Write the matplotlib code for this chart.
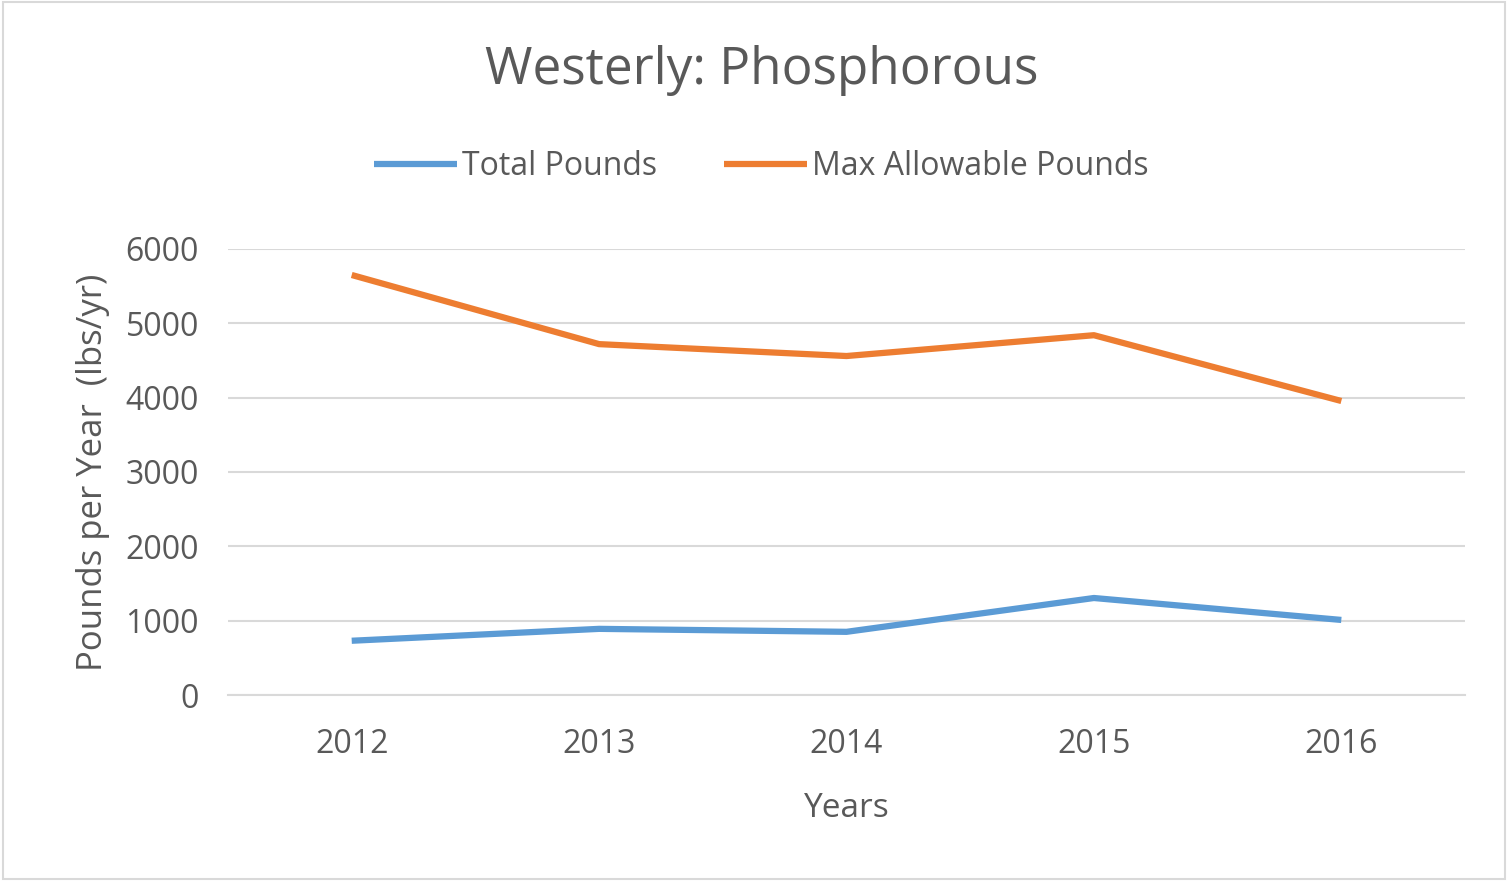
import matplotlib.pyplot as plt
from matplotlib.patches import Rectangle

years = ["2012", "2013", "2014", "2015", "2016"]
total_pounds = [730, 890, 850, 1305, 1010]
max_allowable = [5650, 4720, 4560, 4840, 3955]
yticks = [0, 1000, 2000, 3000, 4000, 5000, 6000]

plt.rcParams['font.family'] = ['Open Sans', 'DejaVu Sans']
txt = "#595959"

fig = plt.figure(figsize=(15.08, 8.81), dpi=100)
ax = fig.add_axes([0.1512, 0.2111, 0.8203, 0.5063])

x = range(len(years))
ax.plot(x, total_pounds, color="#5b9bd5", linewidth=4.5, label="Total Pounds", solid_capstyle="butt")
ax.plot(x, max_allowable, color="#ed7d31", linewidth=4.5, label="Max Allowable Pounds", solid_capstyle="butt")

ax.set_xlim(-0.5, 4.5)
ax.set_ylim(0, 6000)
ax.set_xticks(list(x))
ax.set_xticklabels(years)
ax.set_yticks(yticks)
ax.set_yticklabels([str(v) for v in yticks])
ax.grid(axis="y", color="#d9d9d9", linewidth=1.5)
ax.set_axisbelow(True)
for s in ["top", "right", "left"]:
    ax.spines[s].set_visible(False)
ax.spines["bottom"].set_color("#d9d9d9")
ax.spines["bottom"].set_linewidth(1.5)
ax.tick_params(axis="both", length=0, labelsize=23, colors=txt)
ax.tick_params(axis="y", pad=21)
ax.tick_params(axis="x", pad=24)

ax.set_xlabel("Years", fontsize=24, color=txt, labelpad=22)
ax.set_ylabel("Pounds per Year  (lbs/yr)", fontsize=25, color=txt, labelpad=11)
fig.text(0.505, 0.920, "Westerly: Phosphorous", ha="center", va="center", fontsize=37, color=txt)

ax.legend(loc="center", bbox_to_anchor=(0.505, 0.811), bbox_transform=fig.transFigure,
          ncol=2, frameon=False, fontsize=23, labelcolor=txt, handlelength=2.6,
          handletextpad=0.15, columnspacing=2.1)

fig.add_artist(Rectangle((0.002, 0.002), 0.996, 0.996, transform=fig.transFigure,
                         fill=False, edgecolor="#d9d9d9", linewidth=1.5))

fig.savefig("out.png", dpi=100)
